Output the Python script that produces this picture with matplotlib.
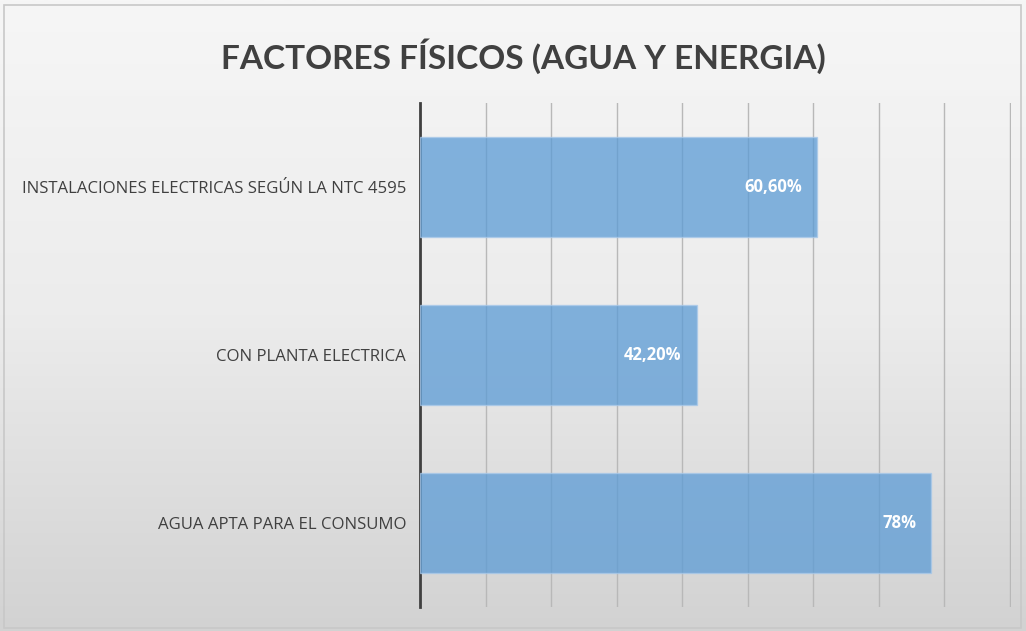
import matplotlib
matplotlib.use("Agg")
import matplotlib.pyplot as plt
import numpy as np
from matplotlib.patches import Rectangle

categories = [
    "AGUA APTA PARA EL CONSUMO",
    "CON PLANTA ELECTRICA",
    "INSTALACIONES ELECTRICAS SEGÚN LA NTC 4595",
]
values = [0.78, 0.422, 0.606]
value_labels = ["78%", "42,20%", "60,60%"]
title = "FACTORES FÍSICOS (AGUA Y ENERGIA)"

fig = plt.figure(figsize=(10.26, 6.31), dpi=100)

# background gradient over the whole figure
bg = fig.add_axes([0, 0, 1, 1], zorder=-10)
grad = np.linspace(0, 1, 256).reshape(-1, 1)
bg.imshow(grad, aspect="auto", cmap=matplotlib.colors.LinearSegmentedColormap.from_list(
    "bg", ["#f6f6f6", "#ececec", "#d2d2d2"]), extent=[0, 1, 0, 1])
bg.axis("off")
fig.patches.append(Rectangle((0.004, 0.004), 0.991, 0.988, transform=fig.transFigure,
                             fill=False, edgecolor="#c8c8c8", lw=1.2))

ax = fig.add_axes([0.4094, 0.038, 0.5760, 0.799])
ax.patch.set_alpha(0)
y = np.arange(len(categories))
ax.barh(y, values, height=0.595, color="#5b9bd5", alpha=0.75,
        edgecolor="#a9c9ea", lw=1.0, zorder=3)
for yi, v, lab in zip(y, values, value_labels):
    ax.text(v - 0.023, yi, lab, ha="right", va="center", color="white",
            fontsize=12, fontweight="bold", family="Open Sans", zorder=4)

ax.set_xlim(0, 0.9015)
ax.set_ylim(-0.5, 2.5)
ax.set_xticks(np.arange(0, 0.91, 0.1))
ax.set_xticklabels([])
ax.tick_params(axis="x", length=0)
ax.grid(axis="x", color="#b8b8b8", lw=1.0, zorder=1)
ax.set_yticks(y)
ax.set_yticklabels(categories, fontsize=12.1, color="#404040", family="Open Sans")
ax.tick_params(axis="y", length=0, pad=10)
for s in ["top", "right", "bottom"]:
    ax.spines[s].set_visible(False)
ax.spines["left"].set_color("#404040")
ax.spines["left"].set_linewidth(2)

fig.text(0.51, 0.911, title, ha="center", va="center", fontsize=24,
         fontweight="bold", color="#404040", family="Lato")

fig.savefig("out.png", dpi=100)
